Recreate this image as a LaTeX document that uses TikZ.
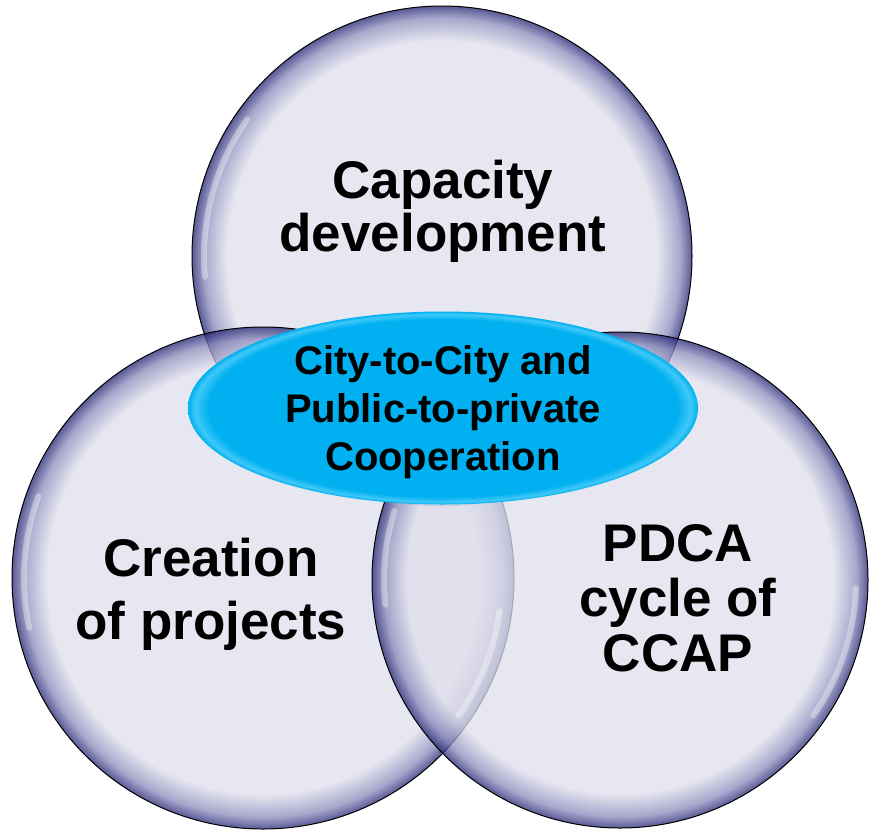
\documentclass[tikz,border=0pt]{standalone}
\usepackage{fontspec}
\setmainfont{Liberation Sans}
\usetikzlibrary{shapes.geometric,calc}
\definecolor{bubblein}{HTML}{DFDFEC}
\definecolor{bubblemid}{HTML}{8A8ABC}
\definecolor{bubbleedge}{HTML}{232373}
\definecolor{hubcyan}{HTML}{00B0F0}
\definecolor{hubrim}{HTML}{40C8F8}
\pgfdeclareradialshading{bubble}{\pgfpoint{0bp}{0bp}}{color(0bp)=(bubblein); color(21.5bp)=(bubblein); color(23.8bp)=(bubblemid); color(25bp)=(bubbleedge); color(50bp)=(bubbleedge)}
\pgfdeclareradialshading{hub}{\pgfpoint{0bp}{0bp}}{color(0bp)=(hubcyan); color(23bp)=(hubcyan); color(24.3bp)=(hubrim); color(25bp)=(hubcyan); color(50bp)=(hubcyan)}
\tikzset{
  bubble/.style={circle, inner sep=0pt, shade, shading=bubble, fill opacity=0.75, draw=black, line width=1pt},
  bubblelabel/.style={font=\bfseries\fontsize{53}{53}\selectfont, align=center, text=black},
  gloss/.style={draw=white, line width=6pt, line cap=round, opacity=0.35},
  hub/.style={ellipse, minimum width=510pt, minimum height=193pt, inner sep=0pt, shade, shading=hub},
  hublabel/.style={font=\bfseries\fontsize{40}{48}\selectfont, align=center, text=black}
}
\begin{document}
\begin{tikzpicture}[x=1pt,y=-1pt]
  \useasboundingbox (0,0) rectangle (873,830);
  % three circles
  \node[bubble, minimum size=500pt] (capacity) at (442,256) {};
  \node[bubble, minimum size=502pt] (creation) at (263,578) {};
  \node[bubble, minimum size=496pt] (pdca) at (620,580) {};
  % glossy streaks on the rims
  \draw[gloss] ($(capacity.center)+(145:238pt)$) arc[start angle=145, end angle=185, radius=238pt];
  \draw[gloss] ($(creation.center)+(160:239pt)$) arc[start angle=160, end angle=192, radius=239pt];
  \draw[gloss] ($(creation.center)+(-35:239pt)$) arc[start angle=-35, end angle=-8, radius=239pt];
  \draw[gloss] ($(pdca.center)+(-35:236pt)$) arc[start angle=-35, end angle=-2, radius=236pt];
  \draw[gloss] ($(pdca.center)+(163:236pt)$) arc[start angle=163, end angle=186, radius=236pt];
  % labels
  \node[bubblelabel] (capacitytext) at (443,211) {Capacity\\development};
  \node[bubblelabel, font=\bfseries\fontsize{53}{63}\selectfont] (creationtext) at (211,594) {Creation\\of projects};
  \node[bubblelabel, font=\bfseries\fontsize{53}{55}\selectfont] (pdcatext) at (678,598) {PDCA\\cycle of\\CCAP};
  % cooperation in the middle
  \node[hub] (coop) at (443,408) {};
  \node[hublabel] (cooptext) at (443,412) {City-to-City and\\Public-to-private\\Cooperation};
\end{tikzpicture}
\end{document}
